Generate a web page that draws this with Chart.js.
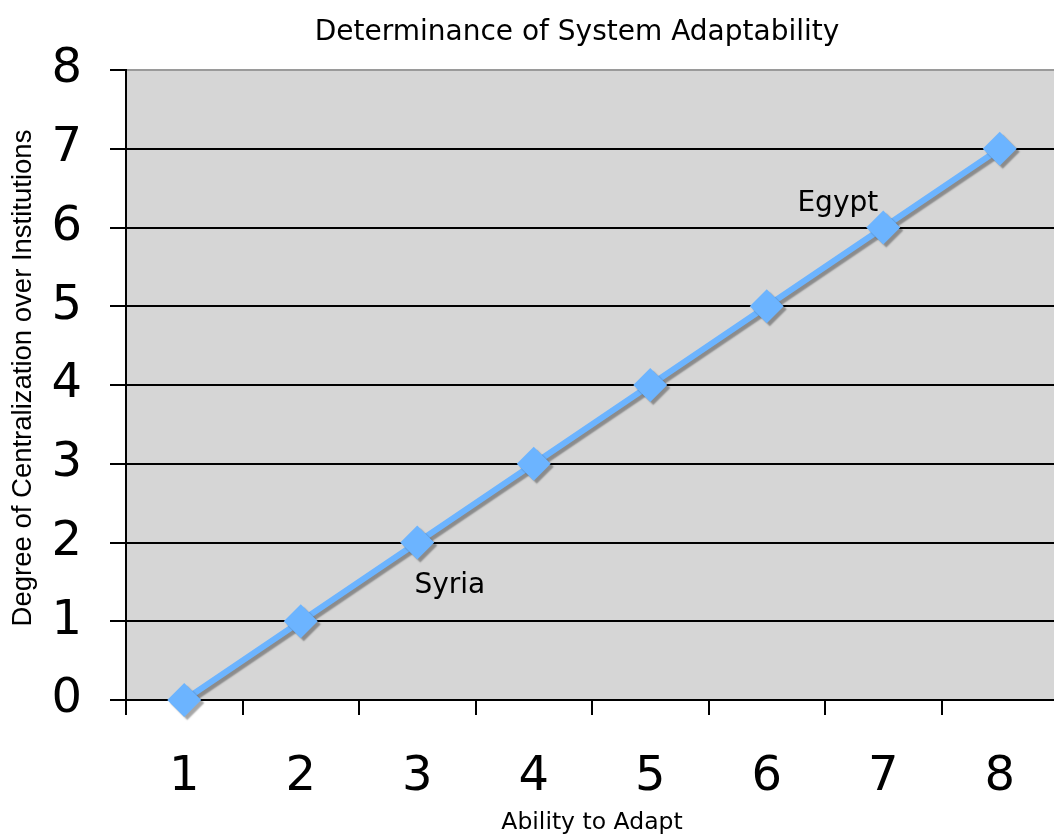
<!DOCTYPE html>
<html>
<head>
<meta charset="utf-8">
<script src="https://cdn.jsdelivr.net/npm/chart.js@4/dist/chart.umd.min.js"></script>
<style>
  html, body { margin: 0; padding: 0; background: #ffffff; overflow: hidden; }
  #wrap { width: 1054px; height: 837px; overflow: hidden; position: relative; }
  canvas { display: block; }
</style>
</head>
<body>
<div id="wrap"><canvas id="c" width="1075" height="837"></canvas></div>
<script>
// ---- data ----
const categories = ['1', '2', '3', '4', '5', '6', '7', '8'];
const values = [0, 1, 2, 3, 4, 5, 6, 7];
const yMin = 0;
const yMax = 8;
const chartTitle = 'Determinance of System Adaptability';
const xTitle = 'Ability to Adapt';
const yTitle = 'Degree of Centralization over Institutions';
const noteTexts = ['Egypt', 'Syria'];

// annotation placement (in data units of the scales)
const notePlacement = [
  { x: 5.61, y: 6.21 },
  { x: 2.28, y: 1.36 }
];

const plotBg = '#d6d6d6';
const lineColor = '#6cb4ff';

const plotBackground = {
  id: 'plotBackground',
  beforeDraw(chart) {
    const { ctx, chartArea: a } = chart;
    ctx.save();
    ctx.fillStyle = plotBg;
    ctx.fillRect(a.left, a.top, a.right - a.left, a.bottom - a.top);
    ctx.restore();
  }
};

const shadowPlugin = {
  id: 'shadowPlugin',
  beforeDatasetsDraw(chart) {
    const ctx = chart.ctx;
    ctx.save();
    ctx.shadowColor = 'rgba(0,0,0,0.35)';
    ctx.shadowOffsetX = 3;
    ctx.shadowOffsetY = 3;
    ctx.shadowBlur = 1.5;
  },
  afterDatasetsDraw(chart) {
    chart.ctx.restore();
  }
};

const textPlugin = {
  id: 'textPlugin',
  afterDraw(chart) {
    const ctx = chart.ctx;
    const xs = chart.scales.x, ys = chart.scales.y;
    ctx.save();
    ctx.fillStyle = '#000';
    // chart title
    ctx.font = '28px "DejaVu Sans"';
    ctx.textAlign = 'center';
    ctx.textBaseline = 'alphabetic';
    ctx.fillText(chartTitle, 577, 40);
    // y axis title
    ctx.save();
    ctx.translate(23, 378);
    ctx.rotate(-Math.PI / 2);
    ctx.font = '27.5px "Liberation Sans"';
    ctx.textBaseline = 'middle';
    ctx.fillText(yTitle, 0, 0);
    ctx.restore();
    // annotations
    ctx.font = '28px "DejaVu Sans"';
    ctx.textBaseline = 'alphabetic';
    noteTexts.forEach((t, i) => {
      const p = notePlacement[i];
      ctx.fillText(t, xs.getPixelForValue(p.x), ys.getPixelForValue(p.y));
    });
    ctx.restore();
  }
};

new Chart(document.getElementById('c'), {
  type: 'line',
  data: {
    labels: categories,
    datasets: [{
      data: values,
      borderColor: lineColor,
      backgroundColor: lineColor,
      borderWidth: 6,
      pointStyle: 'rectRot',
      pointRadius: 17,
      pointHoverRadius: 17,
      pointBorderWidth: 0,
      pointBackgroundColor: lineColor,
      tension: 0,
      fill: false,
      clip: false
    }]
  },
  options: {
    responsive: false,
    devicePixelRatio: 1,
    animation: false,
    layout: { padding: { top: 70, left: 0, right: 1, bottom: 0 } },
    plugins: {
      legend: { display: false },
      title: { display: false },
      tooltip: { enabled: false }
    },
    scales: {
      x: {
        type: 'category',
        offset: true,
        grid: {
          offset: true,
          drawOnChartArea: false,
          drawTicks: true,
          tickLength: 15,
          color: '#000',
          lineWidth: 2
        },
        border: { display: true, color: '#000', width: 2 },
        ticks: {
          color: '#000',
          padding: 34,
          font: { family: '"DejaVu Sans"', size: 48 },
          maxRotation: 0,
          autoSkip: false
        },
        title: {
          display: true,
          text: xTitle,
          color: '#000',
          font: { family: '"DejaVu Sans"', size: 23.5 },
          padding: { top: 0, bottom: 0 }
        },
        afterFit(scale) { scale.height = 137; }
      },
      y: {
        min: yMin,
        max: yMax,
        grid: {
          color: (c) => (c.tick && c.tick.value === yMax ? '#9a9a9a' : '#000'),
          tickColor: '#000',
          lineWidth: 2,
          tickLength: 16
        },
        border: { display: true, color: '#000', width: 2 },
        ticks: {
          stepSize: 1,
          color: '#000',
          padding: 28,
          font: { family: '"DejaVu Sans"', size: 48 }
        },
        afterFit(scale) { scale.width = 126; }
      }
    }
  },
  plugins: [plotBackground, shadowPlugin, textPlugin]
});
</script>
</body>
</html>
